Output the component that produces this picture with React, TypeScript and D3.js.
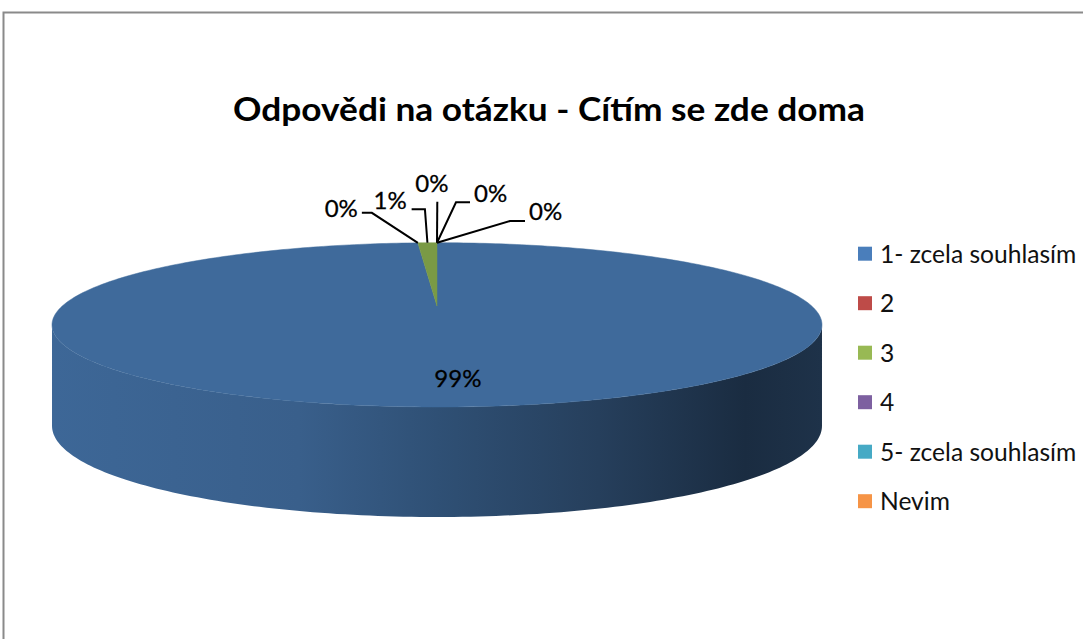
import React from "react";
import * as d3 from "d3";

// ---- data ----
const categories = ["1- zcela souhlasím", "2", "3", "4", "5- zcela souhlasím", "Nevim"];
const values = [99, 0, 1, 0, 0, 0];
const valueLabels = ["99%", "0%", "1%", "0%", "0%", "0%"];
const legendColors = ["#4a7ebb", "#be4b48", "#98b954", "#7d60a0", "#46aac5", "#f69446"];
const topColors = ["#3f6a9b", "#a8403d", "#7a9a45", "#6a5088", "#3d8fa6", "#d07a35"];
const title = "Odpovědi na otázku - Cítím se zde doma";

// ---- layout ----
const W = 1083;
const H = 639;
const cx = 437;
const cy = 306;
const Rx = 374.7;
const Ry = 77.8;
const persp = 0.2296;
const depth = 98.6;
const depthPersp = 0.1036;

// label leader layouts (elbow offset from anchor, horizontal tail, text placement)
const labelLayout = [
  null,
  { ex: -46, ey: -30, h: -10, anchor: "end", tx: -4, ty: 4 },
  { ex: -2.5, ey: -33.4, h: -13.3, anchor: "end", tx: -5, ty: 0 },
  { ex: 0.3, ey: -41, h: 0, anchor: "start", tx: -22, ty: -10 },
  { ex: 19, ey: -40.5, h: 14, anchor: "start", tx: 4, ty: 0 },
  { ex: 73, ey: -21.7, h: 15, anchor: "start", tx: 4, ty: -1 },
];

function proj(theta: number, r: number, z: number): [number, number] {
  const u = r * Math.sin(theta);
  const v = r * Math.cos(theta);
  const w = 1 + persp * v;
  const x = cx + (Rx * u) / w;
  const y = cy + (Ry * -v) / w + (z * depth) / (1 + depthPersp * v);
  return [x, y];
}

function sample(a0: number, a1: number, r: number, z: number) {
  const n = Math.max(2, Math.ceil(((a1 - a0) / (2 * Math.PI)) * 360));
  return d3.range(n + 1).map((i) => proj(a0 + ((a1 - a0) * i) / n, r, z));
}

export default function App() {
  const pie = d3
    .pie<number>()
    .sort(null)
    .value((d) => d)
    .startAngle(0)
    .endAngle(2 * Math.PI);
  const arcs = pie(values);
  const line = d3.line();

  const thR = Math.PI - Math.acos(persp); // right silhouette
  const thL = Math.PI + Math.acos(persp); // left silhouette

  const xGrad = d3.scaleLinear().domain([0, 1]).range([cx - Rx * 1.0274, cx + Rx * 1.0274]);
  const gradStops = [
    { o: 0, k: 0.08 },
    { o: 0.32, k: 0.3 },
    { o: 0.5, k: 0.8 },
    { o: 0.71, k: 1.45 },
    { o: 0.9, k: 2.45 },
    { o: 1, k: 2.1 },
  ];

  const sides = arcs
    .map((a, i) => {
      const s = Math.max(a.startAngle, thR);
      const e = Math.min(a.endAngle, thL);
      if (e <= s) return null;
      const pts = [...sample(s, e, 1, 0), ...sample(s, e, 1, 1).reverse()];
      return { i, d: line(pts as [number, number][]) + "Z" };
    })
    .filter(Boolean) as { i: number; d: string }[];

  const tops = arcs
    .map((a, i) => {
      if (a.endAngle - a.startAngle <= 0) return null;
      const pts = [proj(0, 0, 0), ...sample(a.startAngle, a.endAngle, 1, 0)];
      return { i, d: line(pts as [number, number][]) + "Z" };
    })
    .filter(Boolean) as { i: number; d: string }[];

  const legendY = d3.scaleLinear().domain([0, 1]).range([253.7, 303.2]);

  return (
    <svg
      width={W}
      height={H}
      style={{ position: "absolute", left: 0, top: 0, background: "#fff" }}
      fontFamily="Lato, 'Open Sans', sans-serif"
    >
      <defs>
        {sides.map((s) => (
          <linearGradient
            key={s.i}
            id={"side" + s.i}
            gradientUnits="userSpaceOnUse"
            x1={xGrad(0)}
            x2={xGrad(1)}
            y1={0}
            y2={0}
          >
            {gradStops.map((g, j) => (
              <stop key={j} offset={g.o} stopColor={d3.color(topColors[s.i])!.darker(g.k).formatHex()} />
            ))}
          </linearGradient>
        ))}
      </defs>
      <rect x={3.5} y={12.5} width={W + 20} height={H + 20} fill="#fff" stroke="#8a8a8a" strokeWidth={2} />
      <text
        x={549}
        y={121}
        textAnchor="middle"
        fontSize={32}
        fontWeight="bold"
        fill="#000"
        textLength={632}
        lengthAdjust="spacingAndGlyphs"
      >
        {title}
      </text>

      {sides.map((s) => (
        <path key={"s" + s.i} d={s.d} fill={`url(#side${s.i})`} />
      ))}
      {tops.map((t) => (
        <path key={"t" + t.i} d={t.d} fill={topColors[t.i]} stroke={topColors[t.i]} strokeWidth={0.5} />
      ))}

      {/* main label */}
      {arcs.map((a, i) => {
        if (labelLayout[i]) return null;
        const mid = (a.startAngle + a.endAngle) / 2;
        const [x, y] = proj(mid, 0.763, 0);
        return (
          <text key={"l" + i} x={x + 10} y={y + 9} textAnchor="middle" fontSize={24} fill="#000" stroke="#000" strokeWidth={0.3}>
            {valueLabels[i]}
          </text>
        );
      })}

      {/* leader labels */}
      {arcs.map((a, i) => {
        const L = labelLayout[i];
        if (!L) return null;
        const mid = (a.startAngle + a.endAngle) / 2;
        const [ax, ay] = proj(mid, 1, 0);
        const ex = ax + L.ex;
        const ey = ay + L.ey;
        const hx = ex + L.h;
        const pts: [number, number][] = [
          [ax, ay],
          [ex, ey],
          [hx, ey],
        ];
        return (
          <g key={"ll" + i}>
            <path d={line(pts)!} fill="none" stroke="#000" strokeWidth={2} />
            <text
              x={hx + L.tx}
              y={ey + L.ty}
              textAnchor={L.anchor}
              fontSize={24}
              fill="#000"
              stroke="#000"
              strokeWidth={0.3}
            >
              {valueLabels[i]}
            </text>
          </g>
        );
      })}

      {/* legend */}
      {categories.map((c, i) => (
        <g key={"lg" + i}>
          <rect x={858} y={legendY(i) - 7} width={14} height={14} fill={legendColors[i]} />
          <text x={880} y={legendY(i) + 9} fontSize={24.6} fill="#111">
            {c}
          </text>
        </g>
      ))}
    </svg>
  );
}
